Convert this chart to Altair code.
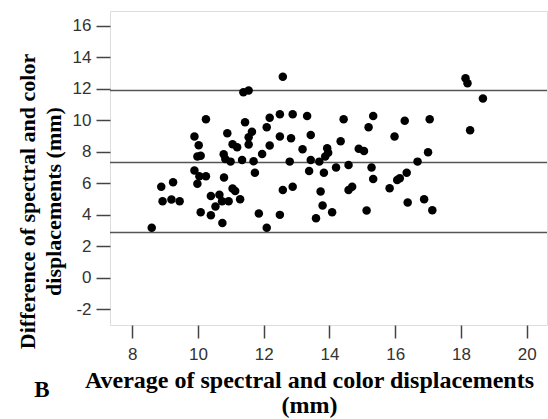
import altair as alt
import pandas as pd

# Bland-Altman style data
avg = [8.59, 8.88, 9.24, 8.92, 9.19, 9.44, 9.89, 10.02, 9.98, 10.08,
       9.89, 10.04, 10.24, 9.98, 10.08, 10.24, 10.39, 10.39, 10.53, 10.65,
       10.73, 10.93, 10.74, 10.79, 11.05, 11.13, 11.28, 10.78, 10.83, 10.99,
       10.89, 11.05, 11.19, 11.34, 11.43, 11.54, 11.64, 11.54, 11.38, 11.54,
       11.69, 11.73, 11.95, 12.18, 12.09, 12.18, 12.49, 12.88, 13.32, 12.49,
       12.83, 13.43, 13.18, 12.79, 13.43, 13.38, 12.58, 12.58, 12.88, 11.85,
       12.09, 12.49, 13.59, 13.69, 13.83, 13.73, 13.79, 14.08, 13.93, 13.96,
       13.87, 14.20, 14.34, 14.43, 14.58, 14.58, 14.69, 14.89, 15.05, 15.13,
       15.19, 15.33, 15.28, 15.33, 15.83, 16.06, 16.14, 16.35, 15.98, 16.29,
       16.38, 16.68, 16.88, 17.13, 17.00, 17.05, 18.14, 18.20, 18.67, 18.28]
diff = [3.18, 5.78, 6.06, 4.86, 4.96, 4.86, 8.96, 8.41, 7.69, 7.75,
        6.80, 6.44, 6.44, 5.96, 4.16, 10.06, 5.19, 3.97, 4.52, 5.26,
        4.86, 4.86, 3.48, 6.36, 5.66, 5.51, 4.98, 7.84, 7.54, 7.37,
        9.17, 8.47, 8.28, 7.48, 9.87, 8.92, 9.27, 8.45, 11.77, 11.88,
        7.40, 6.67, 7.86, 8.39, 9.55, 10.16, 10.38, 10.38, 10.27, 8.96,
        8.86, 9.06, 8.16, 7.37, 7.48, 6.78, 12.76, 5.57, 5.78, 4.07,
        3.18, 3.99, 3.78, 7.37, 6.67, 5.47, 4.58, 4.16, 8.22, 7.94,
        7.69, 6.99, 8.66, 10.06, 7.16, 5.57, 5.78, 8.18, 8.05, 4.26,
        9.55, 10.27, 6.99, 6.27, 5.68, 6.21, 6.32, 6.67, 8.96, 9.97,
        4.77, 7.37, 4.98, 4.29, 7.97, 10.06, 12.66, 12.35, 11.37, 9.36]

limits = [11.88, 7.31, 2.87]          # upper LoA, mean difference, lower LoA
x_ticks = [8, 10, 12, 14, 16, 18, 20]
y_ticks = [-2, 0, 2, 4, 6, 8, 10, 12, 14, 16]
x_title = ["Average of spectral and color displacements", "(mm)"]
y_title = ["Difference of spectral and color", "displacements (mm)"]
panel_label = ["B"]

df = pd.DataFrame({"avg": avg, "diff": diff})
ld = pd.DataFrame({"y": limits})
bd = pd.DataFrame({"t": panel_label})

serif = "Liberation Serif"
sans = "Liberation Sans"

xscale = alt.Scale(domain=[7.32, 20.62], nice=False, zero=False)
yscale = alt.Scale(domain=[-3, 16.93], nice=False, zero=False)

x_axis = alt.Axis(values=x_ticks, title=x_title,
                  labelExpr="datum.value + ''", labelOverlap=False,
                  domain=False, grid=False, tickSize=13,
                  tickColor="#444", tickWidth=1.5,
                  labelFont=sans, labelFontSize=17, labelColor="#333",
                  labelPadding=8,
                  titleFont=serif, titleFontSize=24, titleFontWeight="bold",
                  titleColor="black", titleLineHeight=25,
                  titleX=199, titleY=62, titleAlign="center",
                  titleBaseline="alphabetic")
y_axis = alt.Axis(values=y_ticks, title=y_title,
                  labelExpr="datum.value + ''", labelOverlap=False,
                  domain=False, grid=False, tickSize=14,
                  tickColor="#444", tickWidth=1.5,
                  labelFont=sans, labelFontSize=17, labelColor="#333",
                  labelPadding=5,
                  titleFont=serif, titleFontSize=22, titleFontWeight="bold",
                  titleColor="black", titleLineHeight=26,
                  titleAngle=270, titleX=-76, titleY=190, titleAlign="center",
                  titleBaseline="alphabetic")

lines = alt.Chart(ld).mark_rule(color="#555", strokeWidth=1.6).encode(
    y=alt.Y("y:Q", scale=yscale, axis=y_axis)
)

points = alt.Chart(df).mark_circle(size=72, color="black", opacity=1).encode(
    x=alt.X("avg:Q", scale=xscale, axis=x_axis),
    y=alt.Y("diff:Q", scale=yscale, axis=y_axis),
)

blabel = alt.Chart(bd).mark_text(font=serif, fontSize=23, fontWeight="bold",
                                 color="black", align="center",
                                 baseline="alphabetic").encode(
    text="t:N", x=alt.value(-68), y=alt.value(386)
)

chart = (lines + points + blabel).properties(
    width=437, height=314,
    autosize=alt.AutoSizeParams(type="none"),
    padding={"left": 110, "top": 11, "right": 1, "bottom": 94},
).configure_view(stroke="#444", strokeWidth=1.5).configure(background="white")

chart.save("out.html", embed_options={"renderer": "svg", "actions": False})
